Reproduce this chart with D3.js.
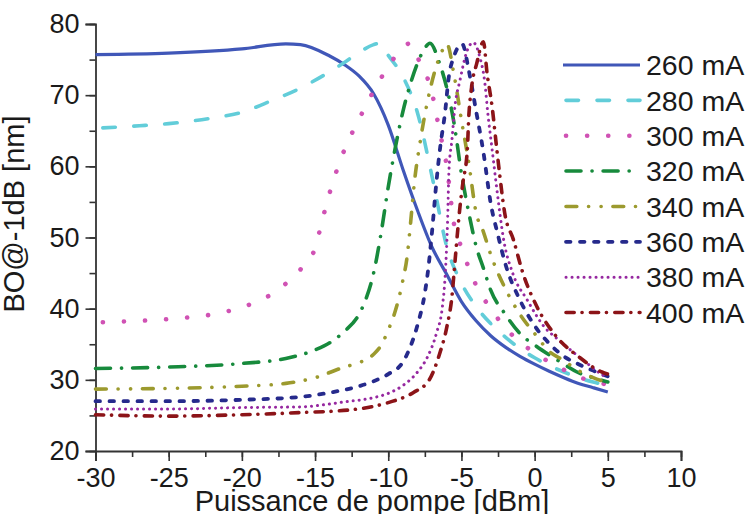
<!DOCTYPE html>
<html><head><meta charset="utf-8">
<script src="https://cdn.jsdelivr.net/npm/d3@7"></script>
<style>
html,body{margin:0;padding:0;background:#fff;}
svg{display:block;font-family:"Liberation Sans",Arial,sans-serif;}
</style></head>
<body>
<svg id="chart" width="749" height="514"></svg>
<script>
// ---------- data ----------
const seriesNames = ["260 mA","280 mA","300 mA","320 mA","340 mA","360 mA","380 mA","400 mA"];
const xTicks = [-30,-25,-20,-15,-10,-5,0,5,10];
const yTicks = [20,30,40,50,60,70,80];

const s260 = [[-30,75.7],[-25,75.9],[-20,76.5],[-17,77.2],[-16,77.1],[-14,75.5],[-13,74.3],[-12,72.7],[-11,70.2],[-10,65.8],[-9,59.6],[-8,53.8],[-7,48.6],[-6,44.8],[-5,41.0],[-4,38.3],[-3,36.2],[-2,34.6],[-1,33.3],[0,32.2],[1,31.2],[2,30.3],[3,29.5],[4,28.9],[5,28.3]];
const s280 = [[-29.5,65.4],[-27,65.7],[-25,66.0],[-22,66.8],[-20,67.6],[-18,69.2],[-16,71.0],[-14,73.3],[-13,74.6],[-12,76.0],[-11,77.1],[-10.6,77.3],[-10,75.6],[-9,72.6],[-8,67.5],[-7,58.5],[-6,48.7],[-5,43.6],[-4,40.3],[-3,37.9],[-2,36.0],[-1,34.4],[0,33.1],[1,32.0],[2,31.1],[3,30.3],[4,29.7],[5,29.2]];
const s300 = [[-29.5,38.1],[-28,38.2],[-26,38.4],[-24,38.7],[-22,39.2],[-20,40.2],[-18,42.0],[-17,43.5],[-16,45.5],[-15,48.5],[-14.5,52.5],[-14,56.3],[-13,62.3],[-12,66.6],[-11,70.6],[-10,74.0],[-9,76.7],[-8.5,77.3],[-8,75.3],[-7,70.2],[-6.5,65.0],[-6,60.0],[-5.5,51.8],[-5,48.6],[-4,43.3],[-3,40.0],[-2,37.3],[-1,35.3],[0,33.8],[1,32.5],[2,31.4],[3,30.4],[4,29.8],[5,29.3]];
const s320 = [[-30,31.6],[-25,31.8],[-20,32.3],[-17,33.0],[-15,34.2],[-14,35.2],[-13,36.8],[-12,39.2],[-11.5,41.5],[-11,45.0],[-10.5,50.5],[-10,57.1],[-9.5,62.8],[-9,67.7],[-8.5,71.5],[-8,74.5],[-7.5,76.6],[-7.15,77.3],[-6.5,74.5],[-6,71.0],[-5.5,66.0],[-5,59.0],[-4.5,53.5],[-4,48.8],[-3.5,45.7],[-3,42.6],[-2,39.2],[-1,36.5],[0,34.9],[1,33.5],[2,32.2],[3,31.0],[4,30.3],[5,29.7]];
const s340 = [[-30,28.7],[-25,28.8],[-20,29.1],[-17,29.5],[-15,30.3],[-13,31.8],[-12,32.4],[-11,33.6],[-10.5,34.8],[-10,37.0],[-9.5,39.8],[-9,44.0],[-8.7,47.5],[-8.5,51.5],[-8.2,58.0],[-7.8,63.7],[-7.3,69.3],[-6.8,73.5],[-6.3,76.3],[-6.0,77.2],[-5.5,72.8],[-5,66.5],[-4.5,60.5],[-4,53.5],[-3.5,50.8],[-3,47.6],[-2,42.8],[-1,39.2],[0,36.5],[1,34.0],[2,32.7],[3,31.3],[4,30.3],[5,29.6]];
const s360 = [[-30,27.0],[-25,27.0],[-20,27.2],[-16,27.6],[-14,28.2],[-12,29.1],[-11,29.8],[-10,30.8],[-9,32.5],[-8.5,34.6],[-8,37.7],[-7.5,42.2],[-7.25,45.9],[-7.0,51.0],[-6.7,58.0],[-6.45,62.7],[-6.1,67.9],[-5.9,72.0],[-5.5,75.5],[-4.95,77.2],[-4.5,73.5],[-4.0,67.8],[-3.5,62.0],[-3.0,54.8],[-2.5,50.3],[-2,46.3],[-1,41.2],[0,37.6],[1,35.1],[2,33.3],[3,32.2],[4,31.3],[5,30.5]];
const s380 = [[-30,25.9],[-25,25.9],[-20,26.1],[-16,26.2],[-13,26.9],[-11,27.5],[-10,28.1],[-9,29.2],[-8,31.1],[-7.3,33.3],[-6.7,36.6],[-6.3,40.3],[-6.1,45.0],[-5.95,52.0],[-5.85,59.5],[-5.65,63.7],[-5.45,68.3],[-5.1,72.1],[-4.6,76.3],[-4.2,77.4],[-3.75,75.4],[-3.4,71.7],[-3.2,67.5],[-2.9,62.3],[-2.6,57.1],[-2.1,49.5],[-1.5,45.0],[-0.5,41.2],[0.6,37.6],[1.7,35.5],[3.3,32.8],[4.8,30.5],[5,30.3]];
const s400 = [[-30,25.1],[-25,24.9],[-20,25.1],[-16,25.4],[-12.5,25.8],[-10,26.8],[-8.3,28.2],[-7.2,30.0],[-6.5,33.6],[-6.0,37.4],[-5.65,41.7],[-5.45,46.4],[-5.25,51.1],[-5.1,54.3],[-4.9,57.7],[-4.6,62.3],[-4.5,66.9],[-4.3,71.2],[-3.95,74.5],[-3.5,77.5],[-3.25,73.1],[-2.9,68.3],[-2.6,62.7],[-2.4,59.1],[-2.05,53.5],[-1.45,49.7],[-0.8,45.0],[0.15,40.3],[1.4,36.3],[3.1,33.1],[4.6,31.1],[5,30.8]];

const seriesData = [s260,s280,s300,s320,s340,s360,s380,s400];

// ---------- styles ----------
const colors = ["#4057b8","#62cdd9","#d052b4","#178a3c","#9c9a2e","#262a8c","#9628a0","#8c1418"];
const dashes = ["none","12.5,18.5","0.1,21","15,11,0.1,11","10.8,11.75,0.1,12.4,0.1,11.75","4.5,9.5","0.1,5.9","8.2,7.8,0.1,8.3"];
const widths = [3.2,3.6,4.6,3.6,3.6,3.8,3.0,3.6];

const svg = d3.select("#chart");
const x = d3.scaleLinear().domain([-30,10]).range([95.5,681]);
const y = d3.scaleLinear().domain([20,80]).range([451,24]);
const TICKFONT = 27, TITLEFONT = 29, LEGFONT = 28.5;
const fmt = d => String(d);   // plain hyphen-minus like the reference

// axes
const axisColor = "#333";
const xAxis = svg.append("g").attr("transform","translate(0,451)");
xAxis.call(d3.axisBottom(x).tickValues(d3.range(-30,10.01,2.5)).tickSize(6).tickFormat(""));
xAxis.selectAll(".tick line").attr("stroke",axisColor).attr("stroke-width",1.6);
xAxis.select(".domain").remove();
const xAxisMaj = svg.append("g").attr("transform","translate(0,451)");
xAxisMaj.call(d3.axisBottom(x).tickValues(xTicks).tickSize(10).tickPadding(7).tickFormat(fmt));
xAxisMaj.selectAll(".tick line").attr("stroke",axisColor).attr("stroke-width",1.6);
xAxisMaj.select(".domain").attr("stroke",axisColor).attr("stroke-width",1.8);
xAxisMaj.selectAll("text").attr("font-size",TICKFONT).attr("fill","#1a1a1a").attr("font-family","Liberation Sans, Arial, sans-serif");

const yAxis = svg.append("g").attr("transform","translate(95.5,0)");
yAxis.call(d3.axisLeft(y).tickValues(d3.range(20,80.01,5)).tickSize(6).tickFormat(""));
yAxis.selectAll(".tick line").attr("stroke",axisColor).attr("stroke-width",1.6);
yAxis.select(".domain").remove();
const yAxisMaj = svg.append("g").attr("transform","translate(95.5,0)");
yAxisMaj.call(d3.axisLeft(y).tickValues(yTicks).tickSize(10).tickPadding(6).tickFormat(fmt));
yAxisMaj.selectAll(".tick line").attr("stroke",axisColor).attr("stroke-width",1.6);
yAxisMaj.select(".domain").attr("stroke",axisColor).attr("stroke-width",1.8);
yAxisMaj.selectAll("text").attr("font-size",TICKFONT).attr("fill","#1a1a1a").attr("font-family","Liberation Sans, Arial, sans-serif");

// titles
svg.append("text").attr("x",372).attr("y",511).attr("text-anchor","middle")
  .attr("font-size",TITLEFONT).attr("fill","#1a1a1a").text("Puissance de pompe [dBm]");
svg.append("text").attr("transform","translate(24,214) rotate(-90)").attr("text-anchor","middle")
  .attr("font-size",TITLEFONT).attr("fill","#1a1a1a").text("BO@-1dB [nm]");

// lines
const line = d3.line().x(d=>x(d[0])).y(d=>y(d[1])).curve(d3.curveMonotoneX);
seriesData.forEach((s,i)=>{
  svg.append("path").datum(s).attr("d",line)
    .attr("fill","none").attr("stroke",colors[i]).attr("stroke-width",widths[i])
    .attr("stroke-dasharray",dashes[i]).attr("stroke-linecap",i===0?"butt":"round")
    .attr("stroke-linejoin","round");
});

// legend
const legY = d3.scaleLinear().domain([0,7]).range([65,312.5]);
seriesNames.forEach((n,i)=>{
  const g = svg.append("g");
  g.append("line").attr("x1",i===0?563:566).attr("x2",640).attr("y1",legY(i)).attr("y2",legY(i))
    .attr("stroke",colors[i]).attr("stroke-width",widths[i]).attr("stroke-dasharray",dashes[i])
    .attr("stroke-linecap",i===0?"butt":"round");
  g.append("text").attr("x",646).attr("y",legY(i)).attr("dy","0.36em")
    .attr("font-size",LEGFONT).attr("fill","#1a1a1a").text(n);
});
</script>
</body></html>
